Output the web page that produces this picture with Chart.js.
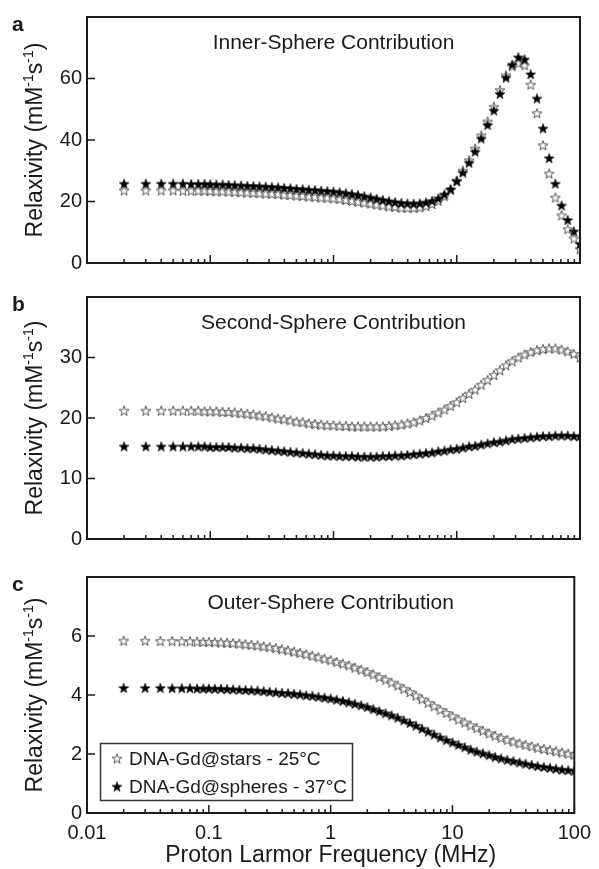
<!DOCTYPE html>
<html>
<head>
<meta charset="utf-8">
<script src="https://cdn.jsdelivr.net/npm/chart.js@4.4.0/dist/chart.umd.min.js"></script>
<style>
  body { margin: 0; background: #fff; width: 599px; height: 869px; position: relative; overflow: hidden; }
  canvas { position: absolute; left: 0; display: block; }
</style>
</head>
<body>
<canvas id="chartA" width="599" height="280" style="top:0"></canvas>
<canvas id="chartB" width="599" height="280" style="top:280px"></canvas>
<canvas id="chartC" width="599" height="309" style="top:560px"></canvas>
<script>
// proton Larmor frequency (MHz), shared by all three panels
const freq = [0.02, 0.03, 0.04, 0.05, 0.06, 0.07, 0.08, 0.09, 0.1,
  0.112, 0.126, 0.141, 0.158, 0.178, 0.2, 0.224, 0.251, 0.282, 0.316, 0.355, 0.398, 0.447, 0.501, 0.562, 0.631, 0.708, 0.794, 0.891, 1,
  1.12, 1.26, 1.41, 1.58, 1.78, 2, 2.24, 2.51, 2.82, 3.16, 3.55, 3.98, 4.47, 5.01, 5.62, 6.31, 7.08, 7.94, 8.91, 10,
  11.2, 12.6, 14.1, 15.8, 17.8, 20, 22.4, 25.1, 28.2, 31.6, 35.5, 39.8, 44.7, 50.1, 56.2, 63.1, 70.8, 79.4, 89.1, 100];

// a - inner sphere
const innerStars = [23.6, 23.6, 23.6, 23.6, 23.5, 23.5, 23.5, 23.5, 23.4,
  23.3, 23.3, 23.2, 23.1, 23.0, 22.9, 22.8, 22.7, 22.6, 22.5, 22.4, 22.2, 22.1, 21.9, 21.8, 21.6, 21.5, 21.3, 21.2, 21.0,
  20.8, 20.5, 20.2, 19.9, 19.6, 19.3, 19.0, 18.7, 18.4, 18.2, 18.0, 17.9, 17.9, 18.1, 18.5, 19.2, 20.2, 21.7, 23.8, 26.8,
  30.0, 33.4, 37.2, 41.5, 46.0, 50.8, 56.2, 61.0, 64.0, 65.0, 64.3, 58.0, 48.7, 38.3, 29.1, 21.3, 15.5, 11.0, 8.0, 4.5];
const innerSpheres = [25.8, 25.8, 25.8, 25.8, 25.8, 25.7, 25.7, 25.7, 25.6,
  25.5, 25.5, 25.4, 25.3, 25.2, 25.1, 25.0, 24.9, 24.8, 24.7, 24.6, 24.4, 24.3, 24.1, 24.0, 23.8, 23.7, 23.5, 23.4, 23.2,
  23.0, 22.7, 22.4, 22.1, 21.7, 21.3, 20.9, 20.5, 20.1, 19.8, 19.5, 19.4, 19.3, 19.4, 19.7, 20.2, 21.0, 22.3, 24.0, 26.6,
  29.4, 32.6, 36.2, 40.5, 44.9, 49.6, 55.0, 60.3, 64.5, 66.9, 66.2, 61.4, 53.5, 43.8, 34.1, 25.8, 18.7, 14.0, 10.3, 6.2];

// b - second sphere
const secondStars = [21.2, 21.2, 21.2, 21.2, 21.2, 21.2, 21.2, 21.1, 21.1,
  21.1, 21.0, 21.0, 20.9, 20.8, 20.7, 20.6, 20.4, 20.3, 20.1, 19.9, 19.8, 19.6, 19.4, 19.3, 19.1, 19.0, 18.9, 18.8, 18.8,
  18.7, 18.7, 18.6, 18.6, 18.6, 18.6, 18.6, 18.6, 18.7, 18.8, 18.9, 19.1, 19.3, 19.6, 20.0, 20.4, 20.9, 21.4, 22.0, 22.6,
  23.3, 24.0, 24.7, 25.5, 26.3, 27.1, 27.9, 28.7, 29.4, 30.0, 30.5, 30.9, 31.2, 31.4, 31.5, 31.5, 31.3, 31.0, 30.6, 30.0];
const secondSpheres = [15.3, 15.3, 15.3, 15.3, 15.3, 15.3, 15.3, 15.3, 15.2,
  15.2, 15.2, 15.2, 15.1, 15.1, 15.0, 15.0, 14.9, 14.8, 14.7, 14.6, 14.5, 14.4, 14.3, 14.2, 14.1, 14.0, 13.9, 13.8, 13.8,
  13.7, 13.7, 13.7, 13.6, 13.6, 13.6, 13.6, 13.7, 13.7, 13.8, 13.8, 13.9, 14.0, 14.1, 14.2, 14.3, 14.5, 14.6, 14.8, 14.9,
  15.1, 15.3, 15.4, 15.6, 15.8, 16.0, 16.1, 16.3, 16.5, 16.6, 16.7, 16.8, 16.9, 17.0, 17.0, 17.1, 17.1, 17.1, 17.0, 17.0];

// c - outer sphere
const outerStars = [5.84, 5.84, 5.83, 5.83, 5.82, 5.82, 5.81, 5.80, 5.80,
  5.79, 5.78, 5.77, 5.76, 5.74, 5.72, 5.70, 5.68, 5.65, 5.62, 5.59, 5.55, 5.51, 5.47, 5.43, 5.38, 5.33, 5.28, 5.23, 5.18,
  5.12, 5.06, 5.00, 4.93, 4.86, 4.78, 4.70, 4.61, 4.52, 4.42, 4.32, 4.21, 4.10, 3.98, 3.86, 3.74, 3.62, 3.50, 3.39, 3.28,
  3.17, 3.07, 2.97, 2.88, 2.79, 2.70, 2.62, 2.55, 2.48, 2.42, 2.36, 2.31, 2.26, 2.21, 2.17, 2.13, 2.09, 2.05, 2.01, 1.98];
const outerSpheres = [4.24, 4.24, 4.24, 4.23, 4.23, 4.23, 4.22, 4.22, 4.22,
  4.21, 4.21, 4.20, 4.19, 4.18, 4.17, 4.16, 4.15, 4.13, 4.11, 4.09, 4.07, 4.06, 4.04, 4.02, 3.99, 3.97, 3.94, 3.91, 3.88,
  3.84, 3.80, 3.75, 3.70, 3.65, 3.59, 3.52, 3.45, 3.38, 3.31, 3.23, 3.14, 3.05, 2.96, 2.86, 2.76, 2.66, 2.56, 2.47, 2.39,
  2.31, 2.23, 2.15, 2.08, 2.02, 1.96, 1.90, 1.85, 1.80, 1.76, 1.71, 1.67, 1.63, 1.59, 1.56, 1.53, 1.50, 1.47, 1.45, 1.43];

// x axis ticks (log, every 1..9 x 10^n) and the labelled ones
const xTicks = [0.01, 0.02, 0.03, 0.04, 0.05, 0.06, 0.07, 0.08, 0.09,
  0.1, 0.2, 0.3, 0.4, 0.5, 0.6, 0.7, 0.8, 0.9,
  1, 2, 3, 4, 5, 6, 7, 8, 9,
  10, 20, 30, 40, 50, 60, 70, 80, 90, 100];
const xLabels = [0.01, 0.1, 1, 10, 100];
const legendLabels = ['DNA-Gd@stars - 25°C', 'DNA-Gd@spheres - 37°C'];

const FONT = "'Liberation Sans', Arial, sans-serif";
const INK = '#1a1a1a';

// five point star markers
function makeStar(fill, stroke, lw) {
  const c = document.createElement('canvas');
  c.width = 12;
  c.height = 12;
  const g = c.getContext('2d');
  g.beginPath();
  for (let i = 0; i < 10; i++) {
    const r = i % 2 ? 2.1 : 5.2;
    const a = -Math.PI / 2 + i * Math.PI / 5;
    const px = 6 + r * Math.cos(a), py = 6.5 + r * Math.sin(a);
    if (i === 0) g.moveTo(px, py); else g.lineTo(px, py);
  }
  g.closePath();
  g.fillStyle = fill;
  g.fill();
  g.strokeStyle = stroke;
  g.lineWidth = lw;
  g.stroke();
  return c;
}
const hollowStar = makeStar('#fff', '#555', 1);
const solidStar = makeStar('#000', '#000', 0.6);

function drawYTitle(ctx, cx, cy) {
  const big = '23px ' + FONT, small = '14px ' + FONT;
  const parts = [['Relaxivity (mM', big, 0], ['-1', small, -9], ['s', big, 0], ['-1', small, -9], [')', big, 0]];
  ctx.save();
  ctx.translate(cx, cy);
  ctx.rotate(-Math.PI / 2);
  ctx.fillStyle = INK;
  ctx.textBaseline = 'alphabetic';
  ctx.textAlign = 'left';
  let total = 0;
  parts.forEach(p => { ctx.font = p[1]; total += ctx.measureText(p[0]).width; });
  let x = -total / 2;
  parts.forEach(p => {
    ctx.font = p[1];
    ctx.fillText(p[0], x, 8 + p[2]);
    x += ctx.measureText(p[0]).width;
  });
  ctx.restore();
}

const panelDecor = {
  id: 'panelDecor',
  afterDraw(chart, args, opts) {
    const { ctx, chartArea: a, scales } = chart;
    ctx.save();
    // inward tick marks
    ctx.strokeStyle = INK;
    ctx.lineWidth = 1.5;
    scales.x.ticks.forEach(t => {
      const px = scales.x.getPixelForValue(t.value);
      const len = xLabels.includes(t.value) ? 8 : 4;
      ctx.beginPath();
      ctx.moveTo(px, a.bottom);
      ctx.lineTo(px, a.bottom - len);
      ctx.stroke();
    });
    scales.y.ticks.forEach(t => {
      if (t.value === scales.y.max) return;
      const py = scales.y.getPixelForValue(t.value);
      ctx.beginPath();
      ctx.moveTo(a.left, py);
      ctx.lineTo(a.left + 8, py);
      ctx.stroke();
    });
    // box
    ctx.lineWidth = 2;
    ctx.strokeRect(a.left, a.top, a.right - a.left, a.bottom - a.top);

    // panel title and letter
    ctx.fillStyle = INK;
    ctx.textAlign = 'center';
    ctx.textBaseline = 'middle';
    ctx.font = '21px ' + FONT;
    ctx.fillText(opts.title, (a.left + a.right) / 2, a.top + 26);
    ctx.textAlign = 'left';
    ctx.textBaseline = 'alphabetic';
    ctx.font = 'bold 21px ' + FONT;
    ctx.fillText(opts.letter, 12, a.top + 14);

    drawYTitle(ctx, 34, (a.top + a.bottom) / 2);

    if (opts.legend) {
      ctx.fillStyle = '#fff';
      ctx.fillRect(100, 183, 252, 57);
      ctx.strokeStyle = '#333';
      ctx.lineWidth = 1.5;
      ctx.strokeRect(100.5, 183.5, 252, 57);
      const stars = [hollowStar, solidStar];
      const rows = [199, 227];
      ctx.font = '19px ' + FONT;
      ctx.textBaseline = 'middle';
      ctx.fillStyle = INK;
      legendLabels.forEach((lab, i) => {
        ctx.drawImage(stars[i], 117 - 6, rows[i] - 6.5);
        ctx.fillText(lab, 129, rows[i] + 1);
      });
    }
    ctx.restore();
  }
};

function makePanel(id, cfg) {
  const toPoints = arr => freq.map((f, i) => ({ x: f, y: arr[i] }));
  return new Chart(document.getElementById(id), {
    type: 'scatter',
    data: {
      datasets: [
        { label: legendLabels[1], data: toPoints(cfg.spheres), pointStyle: solidStar, pointRadius: 5 },
        { label: legendLabels[0], data: toPoints(cfg.stars), pointStyle: hollowStar, pointRadius: 5 }
      ]
    },
    options: {
      responsive: false,
      animation: false,
      events: [],
      layout: { padding: { top: cfg.padTop, right: 19, left: 0, bottom: 0 } },
      plugins: {
        legend: { display: false },
        tooltip: { enabled: false },
        panelDecor: { title: cfg.title, letter: cfg.letter, legend: cfg.showLegend }
      },
      scales: {
        x: {
          type: 'logarithmic',
          min: 0.01,
          max: 100,
          afterBuildTicks: axis => { axis.ticks = xTicks.map(v => ({ value: v })); },
          afterFit: scale => { scale.height = cfg.xHeight; },
          grid: { display: false, drawTicks: false },
          border: { display: false },
          ticks: {
            display: cfg.showX,
            autoSkip: false,
            maxRotation: 0,
            padding: 8,
            color: INK,
            font: { family: FONT, size: 20 },
            callback: v => xLabels.includes(v) ? String(v) : ''
          },
          title: {
            display: cfg.showX,
            text: 'Proton Larmor Frequency (MHz)',
            color: INK,
            font: { family: FONT, size: 23 },
            padding: { top: 0, bottom: 0 }
          }
        },
        y: {
          min: 0,
          max: cfg.yMax,
          afterFit: scale => { scale.width = 87; },
          grid: { display: false, drawTicks: false },
          border: { display: false },
          ticks: {
            stepSize: cfg.yStep,
            padding: 5,
            color: INK,
            font: { family: FONT, size: 20 },
            callback: v => v === cfg.yMax ? '' : v
          }
        }
      }
    },
    plugins: [panelDecor]
  });
}

makePanel('chartA', { stars: innerStars, spheres: innerSpheres, title: 'Inner-Sphere Contribution', letter: 'a',
  yMax: 80, yStep: 20, padTop: 14, xHeight: 12, showX: false, showLegend: false });
makePanel('chartB', { stars: secondStars, spheres: secondSpheres, title: 'Second-Sphere Contribution', letter: 'b',
  yMax: 40, yStep: 10, padTop: 7, xHeight: 21, showX: false, showLegend: false });
makePanel('chartC', { stars: outerStars, spheres: outerSpheres, title: 'Outer-Sphere Contribution', letter: 'c',
  yMax: 8, yStep: 2, padTop: 2, xHeight: 56, showX: true, showLegend: true });
</script>
</body>
</html>
